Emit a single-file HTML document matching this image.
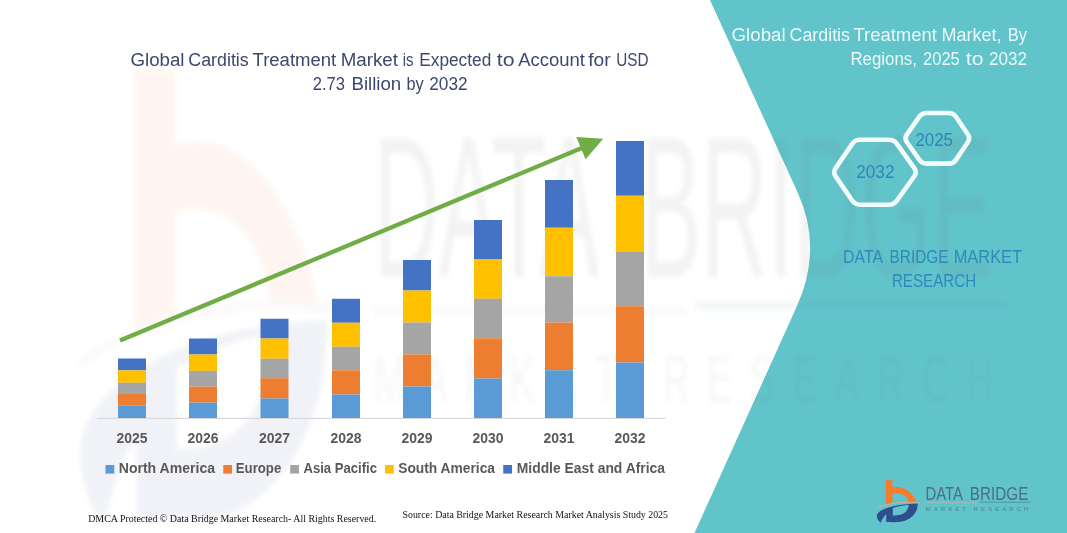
<!DOCTYPE html>
<html><head><meta charset="utf-8"><title>Global Carditis Treatment Market</title>
<style>
html,body{margin:0;padding:0;background:#fff;}
body{width:1067px;height:533px;overflow:hidden;position:relative;font-family:"Liberation Sans",sans-serif;}
svg{position:absolute;left:0;top:0;display:block;will-change:transform;transform:translateZ(0);}
text{font-family:"Liberation Sans",sans-serif;}
.ttl{font-size:18px;fill:#3E486F;}
.rt{font-size:18px;fill:#EAF8F9;}
.yr{font-size:14px;font-weight:bold;fill:#595959;}
.lg{font-size:14px;font-weight:bold;fill:#595959;}
.ft{font-family:"Liberation Serif",serif;font-size:10.5px;fill:#111;}
.hx{font-size:17.5px;fill:#2E86B8;}
.db{font-size:17.8px;fill:#3089BB;}
</style></head><body>
<svg width="1067" height="533" viewBox="0 0 1067 533">
<defs>
<g id="logo">
<!-- orange b -->
<path fill="#F57C2C" fill-rule="evenodd" d="M15.7,6.3 H22.5 V13.2 C28.5,12.3 35.5,13.8 40.2,18.6 C43.8,22 45.8,25.8 46.3,28.3 C36,28.3 24,29.3 15.7,31 Z M22.5,19.6 C27.5,18.8 33,19.8 35.8,23 C37.3,24.8 38,26.6 38.3,28.0 C32,28.1 26,28.6 22.5,29.1 Z"/>
<!-- tan swoosh line -->
<path fill="none" stroke="#C8B6A2" stroke-width="0.9" d="M6.6,33.6 Q25,26.6 49.8,28.7"/>
<!-- blue D + tail -->
<path fill="#2F4E8E" fill-rule="evenodd" d="M47.7,29.6 C48,35.5 45,42 37,45.8 C32,48.2 27,48.4 16.2,48.1 L16.2,40 C14.5,42 12,45 10.7,48.8 C7.6,46.2 6.3,43.2 7,40.6 C9.5,35 25,30 47.7,29.6 Z M22.8,34 C28,32.4 34,31.2 38.6,30.8 C38.4,34 37,36.8 35.2,38.3 C32.5,40.6 29,41.6 22.8,41.6 Z"/>
<!-- wordmark -->
<text x="55.6" y="25.6" textLength="37.4" lengthAdjust="spacingAndGlyphs" style="font-size:18.8px;" fill="currentColor">DATA</text>
<text x="99.8" y="25.6" textLength="58.6" lengthAdjust="spacingAndGlyphs" style="font-size:18.8px;" fill="currentColor">BRIDGE</text>
<line x1="55.6" y1="28.7" x2="107.4" y2="28.7" stroke="#B9B3A6" stroke-width="0.85"/>
<line x1="109" y1="28.2" x2="160.8" y2="28.2" stroke="#5682A6" stroke-width="0.8"/>
<text x="55.6" y="37.2" textLength="102.9" lengthAdjust="spacing" style="font-size:6.2px;" fill="currentColor" opacity="0.8">MARKET  RESEARCH</text>
</g>
<filter id="blur6" x="-20%" y="-20%" width="140%" height="140%"><feGaussianBlur stdDeviation="5"/></filter>
<filter id="blur3" x="-20%" y="-20%" width="140%" height="140%"><feGaussianBlur stdDeviation="2.5"/></filter>
</defs>
<rect width="1067" height="533" fill="#ffffff"/>
<!--WATERMARK-LEFT-->
<!-- teal panel -->
<path d="M710,0 L797.5,192.3 Q823.4,248.6 796.3,307.5 L694.5,533 L1067,533 L1067,0 Z" fill="#62C4CB"/>
<g opacity="0.068" filter="url(#blur3)"><use href="#logo" transform="translate(39.3,1.8) scale(6.02,10.76)" style="color:#555"/></g>
<!-- axis -->
<line x1="97" y1="418.3" x2="665.5" y2="418.3" stroke="#D9D9D9" stroke-width="1.2"/>
<!-- bars -->
<rect x="118" y="358.5" width="28" height="11.90" fill="#4472C4"/>
<rect x="118" y="370.4" width="28" height="12.40" fill="#FFC000"/>
<rect x="118" y="382.8" width="28" height="11.20" fill="#A5A5A5"/>
<rect x="118" y="394.0" width="28" height="11.60" fill="#ED7D31"/>
<rect x="118" y="405.6" width="28" height="12.40" fill="#5B9BD5"/>
<rect x="189" y="338.5" width="28" height="16.00" fill="#4472C4"/>
<rect x="189" y="354.5" width="28" height="16.40" fill="#FFC000"/>
<rect x="189" y="370.9" width="28" height="15.70" fill="#A5A5A5"/>
<rect x="189" y="386.6" width="28" height="16.00" fill="#ED7D31"/>
<rect x="189" y="402.6" width="28" height="15.40" fill="#5B9BD5"/>
<rect x="260.5" y="318.75" width="28" height="19.75" fill="#4472C4"/>
<rect x="260.5" y="338.5" width="28" height="20.25" fill="#FFC000"/>
<rect x="260.5" y="358.75" width="28" height="19.50" fill="#A5A5A5"/>
<rect x="260.5" y="378.25" width="28" height="20.25" fill="#ED7D31"/>
<rect x="260.5" y="398.5" width="28" height="19.50" fill="#5B9BD5"/>
<rect x="332" y="298.75" width="28" height="24.00" fill="#4472C4"/>
<rect x="332" y="322.75" width="28" height="24.00" fill="#FFC000"/>
<rect x="332" y="346.75" width="28" height="23.50" fill="#A5A5A5"/>
<rect x="332" y="370.25" width="28" height="24.25" fill="#ED7D31"/>
<rect x="332" y="394.5" width="28" height="23.50" fill="#5B9BD5"/>
<rect x="403" y="260" width="28" height="30.50" fill="#4472C4"/>
<rect x="403" y="290.5" width="28" height="32.00" fill="#FFC000"/>
<rect x="403" y="322.5" width="28" height="31.90" fill="#A5A5A5"/>
<rect x="403" y="354.4" width="28" height="32.10" fill="#ED7D31"/>
<rect x="403" y="386.5" width="28" height="31.50" fill="#5B9BD5"/>
<rect x="474" y="220" width="28" height="39.50" fill="#4472C4"/>
<rect x="474" y="259.5" width="28" height="39.25" fill="#FFC000"/>
<rect x="474" y="298.75" width="28" height="39.50" fill="#A5A5A5"/>
<rect x="474" y="338.25" width="28" height="40.25" fill="#ED7D31"/>
<rect x="474" y="378.5" width="28" height="39.50" fill="#5B9BD5"/>
<rect x="545" y="180" width="28" height="47.75" fill="#4472C4"/>
<rect x="545" y="227.75" width="28" height="48.50" fill="#FFC000"/>
<rect x="545" y="276.25" width="28" height="46.25" fill="#A5A5A5"/>
<rect x="545" y="322.5" width="28" height="47.75" fill="#ED7D31"/>
<rect x="545" y="370.25" width="28" height="47.75" fill="#5B9BD5"/>
<rect x="616" y="141" width="28" height="54.75" fill="#4472C4"/>
<rect x="616" y="195.75" width="28" height="56.15" fill="#FFC000"/>
<rect x="616" y="251.9" width="28" height="54.35" fill="#A5A5A5"/>
<rect x="616" y="306.25" width="28" height="56.25" fill="#ED7D31"/>
<rect x="616" y="362.5" width="28" height="55.50" fill="#5B9BD5"/>
<!-- arrow -->
<line x1="120" y1="340.6" x2="586" y2="146.2" stroke="#70AD47" stroke-width="4.3"/>
<polygon points="576.3,137 603.2,138.7 585.6,159.3" fill="#70AD47"/>
<!-- year labels -->
<text x="116.50" y="443.3" textLength="31" lengthAdjust="spacingAndGlyphs" class="yr">2025</text>
<text x="187.50" y="443.3" textLength="31" lengthAdjust="spacingAndGlyphs" class="yr">2026</text>
<text x="259.00" y="443.3" textLength="31" lengthAdjust="spacingAndGlyphs" class="yr">2027</text>
<text x="330.50" y="443.3" textLength="31" lengthAdjust="spacingAndGlyphs" class="yr">2028</text>
<text x="401.50" y="443.3" textLength="31" lengthAdjust="spacingAndGlyphs" class="yr">2029</text>
<text x="472.50" y="443.3" textLength="31" lengthAdjust="spacingAndGlyphs" class="yr">2030</text>
<text x="543.50" y="443.3" textLength="31" lengthAdjust="spacingAndGlyphs" class="yr">2031</text>
<text x="614.50" y="443.3" textLength="31" lengthAdjust="spacingAndGlyphs" class="yr">2032</text>
<!-- legend -->
<rect x="105.5" y="465" width="8.8" height="8.6" fill="#5B9BD5"/>
<text x="118.75" y="473" textLength="96.25" lengthAdjust="spacingAndGlyphs" class="lg">North America</text>
<rect x="223.25" y="465" width="8.8" height="8.6" fill="#ED7D31"/>
<text x="235.75" y="473" textLength="45.50" lengthAdjust="spacingAndGlyphs" class="lg">Europe</text>
<rect x="290.2" y="465" width="8.8" height="8.6" fill="#A5A5A5"/>
<text x="303.5" y="473" textLength="73.50" lengthAdjust="spacingAndGlyphs" class="lg">Asia Pacific</text>
<rect x="385" y="465" width="8.8" height="8.6" fill="#FFC000"/>
<text x="398.25" y="473" textLength="96.75" lengthAdjust="spacingAndGlyphs" class="lg">South America</text>
<rect x="503.25" y="465" width="8.8" height="8.6" fill="#4472C4"/>
<text x="516.75" y="473" textLength="148.25" lengthAdjust="spacingAndGlyphs" class="lg">Middle East and Africa</text>
<!-- titles -->
<text x="130.5" y="66" textLength="54.00" lengthAdjust="spacingAndGlyphs" class="ttl">Global</text>
<text x="188.25" y="66" textLength="60.50" lengthAdjust="spacingAndGlyphs" class="ttl">Carditis</text>
<text x="252.5" y="66" textLength="83.75" lengthAdjust="spacingAndGlyphs" class="ttl">Treatment</text>
<text x="340.75" y="66" textLength="57.25" lengthAdjust="spacingAndGlyphs" class="ttl">Market</text>
<text x="402.8" y="66" textLength="10.80" lengthAdjust="spacingAndGlyphs" class="ttl">is</text>
<text x="419.25" y="66" textLength="72.00" lengthAdjust="spacingAndGlyphs" class="ttl">Expected</text>
<text x="496.75" y="66" textLength="17.75" lengthAdjust="spacingAndGlyphs" class="ttl">to</text>
<text x="518.25" y="66" textLength="66.75" lengthAdjust="spacingAndGlyphs" class="ttl">Account</text>
<text x="588.25" y="66" textLength="22.50" lengthAdjust="spacingAndGlyphs" class="ttl">for</text>
<text x="616.25" y="66" textLength="32.25" lengthAdjust="spacingAndGlyphs" class="ttl">USD</text>
<text x="312.7" y="89.9" textLength="32.30" lengthAdjust="spacingAndGlyphs" class="ttl">2.73</text>
<text x="351.5" y="89.9" textLength="49.70" lengthAdjust="spacingAndGlyphs" class="ttl">Billion</text>
<text x="406.5" y="89.9" textLength="17.20" lengthAdjust="spacingAndGlyphs" class="ttl">by</text>
<text x="429.3" y="89.9" textLength="38.30" lengthAdjust="spacingAndGlyphs" class="ttl">2032</text>
<text x="731.6" y="40.5" textLength="54.00" lengthAdjust="spacingAndGlyphs" class="rt">Global</text>
<text x="789.5" y="40.5" textLength="60.50" lengthAdjust="spacingAndGlyphs" class="rt">Carditis</text>
<text x="853.4" y="40.5" textLength="83.60" lengthAdjust="spacingAndGlyphs" class="rt">Treatment</text>
<text x="941.5" y="40.5" textLength="60.00" lengthAdjust="spacingAndGlyphs" class="rt">Market,</text>
<text x="1007.8" y="40.5" textLength="19.20" lengthAdjust="spacingAndGlyphs" class="rt">By</text>
<text x="850.4" y="64.8" textLength="66.60" lengthAdjust="spacingAndGlyphs" class="rt">Regions,</text>
<text x="923" y="64.8" textLength="36.80" lengthAdjust="spacingAndGlyphs" class="rt">2025</text>
<text x="965.8" y="64.8" textLength="17.70" lengthAdjust="spacingAndGlyphs" class="rt">to</text>
<text x="989" y="64.8" textLength="38.00" lengthAdjust="spacingAndGlyphs" class="rt">2032</text>
<!-- hexagons -->
<path d="M835.62,176.33 Q832.80,172.20 835.63,168.08 L852.17,143.92 Q855.00,139.80 860.00,139.80 L889.00,139.80 Q894.00,139.80 896.91,143.87 L914.29,168.13 Q917.20,172.20 914.29,176.27 L896.91,200.63 Q894.00,204.70 889.00,204.70 L860.00,204.70 Q855.00,204.70 852.18,200.57 Z" fill="none" stroke="#F2FBFB" stroke-width="4.6" stroke-linejoin="round"/>
<path d="M906.79,141.98 Q904.20,138.30 906.79,134.62 L919.41,116.68 Q922.00,113.00 926.50,113.00 L949.00,113.00 Q953.50,113.00 956.00,116.74 L967.90,134.56 Q970.40,138.30 967.90,142.04 L956.00,159.86 Q953.50,163.60 949.00,163.60 L926.50,163.60 Q922.00,163.60 919.41,159.92 Z" fill="none" stroke="#F2FBFB" stroke-width="4.6" stroke-linejoin="round"/>
<text x="856.2" y="177.7" textLength="38.3" lengthAdjust="spacingAndGlyphs" class="hx">2032</text>
<text x="915.4" y="145.7" textLength="37.6" lengthAdjust="spacingAndGlyphs" class="hx">2025</text>
<text x="843.1" y="262.7" textLength="39.90" lengthAdjust="spacingAndGlyphs" class="db">DATA</text>
<text x="889.6" y="262.7" textLength="58.90" lengthAdjust="spacingAndGlyphs" class="db">BRIDGE</text>
<text x="953.7" y="262.7" textLength="68.40" lengthAdjust="spacingAndGlyphs" class="db">MARKET</text>
<text x="891.9" y="286.5" textLength="84.30" lengthAdjust="spacingAndGlyphs" class="db">RESEARCH</text>
<!-- footer -->
<text x="88.2" y="522.3" textLength="288" lengthAdjust="spacingAndGlyphs" class="ft">DMCA Protected © Data Bridge Market Research-  All Rights Reserved.</text>
<text x="402.5" y="518" textLength="265.5" lengthAdjust="spacingAndGlyphs" class="ft">Source: Data Bridge Market Research  Market Analysis Study 2025</text>
<use href="#logo" transform="translate(870,474)" style="color:#4F6C84"/>
</svg>
</body></html>
